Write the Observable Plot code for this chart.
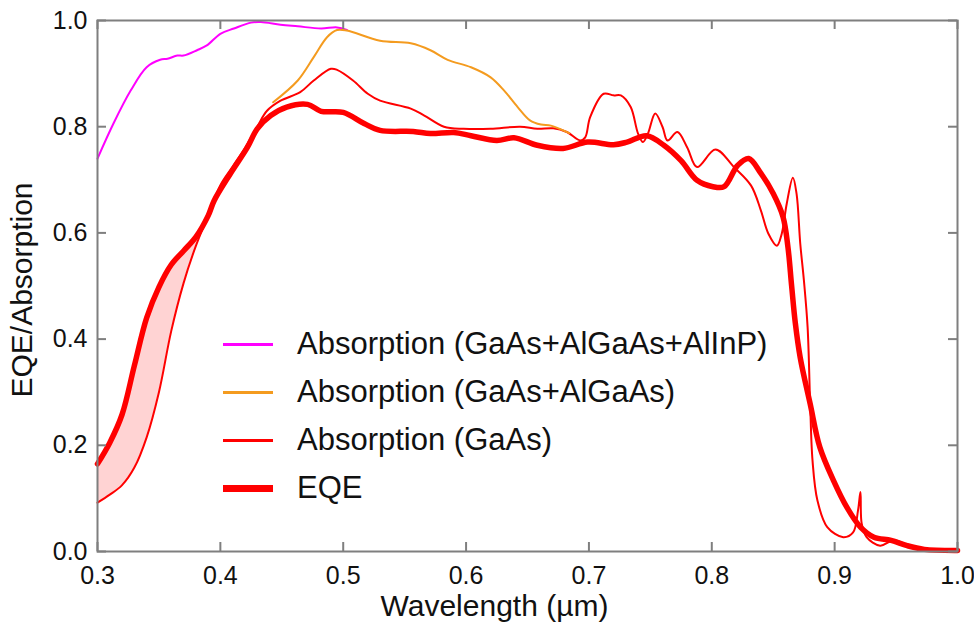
<!DOCTYPE html>
<html>
<head>
<meta charset="utf-8">
<script src="https://cdn.jsdelivr.net/npm/d3@7"></script>
<script src="https://cdn.jsdelivr.net/npm/@observablehq/plot@0.6"></script>
<style>
  html, body { margin: 0; padding: 0; background: #fff; }
  #wrap { position: relative; width: 974px; height: 627px; font-family: "Liberation Sans", Arial, sans-serif; }
  #legend { position: absolute; left: 223px; top: 320px; font-size: 31px; color: #111; }
  #legend .row { height: 48px; line-height: 48px; white-space: nowrap; }
  #legend .sw { display: inline-block; width: 50px; vertical-align: middle; margin-right: 24px; position: relative; top: -1px; }
</style>
</head>
<body>
<div id="wrap"><div id="legend"></div></div>
<script>
// ---- Data ----
const seriesNames = ["Absorption (GaAs+AlGaAs+AlInP)", "Absorption (GaAs+AlGaAs)", "Absorption (GaAs)", "EQE"];
const seriesColors = ["#ff00ff", "#f49b1f", "#ff0000", "#ff0000"];
const seriesWidths = [2, 2, 2, 5.5];

const xTicks = [0.3, 0.4, 0.5, 0.6, 0.7, 0.8, 0.9, 1.0];
const yTicks = [0.0, 0.2, 0.4, 0.6, 0.8, 1.0];

// Absorption (GaAs+AlGaAs+AlInP)
const magX = [0.300,0.313,0.327,0.340,0.351,0.357,0.365,0.370,0.381,0.389,0.400,0.411,0.425,0.433,0.449,0.463,0.482,0.495,0.503];
const magY = [0.740,0.806,0.868,0.912,0.926,0.928,0.934,0.934,0.944,0.953,0.975,0.985,0.996,0.997,0.992,0.989,0.985,0.987,0.982];

// Absorption (GaAs+AlGaAs)
const orX = [0.443,0.463,0.476,0.487,0.495,0.503,0.530,0.555,0.571,0.585,0.604,0.620,0.631,0.642,0.652,0.661,0.669,0.679,0.684];
const orY = [0.846,0.887,0.931,0.969,0.982,0.981,0.962,0.957,0.944,0.926,0.912,0.893,0.868,0.837,0.812,0.804,0.802,0.793,0.788];

// Absorption (GaAs)
const gaX = [0.30,0.31,0.32,0.33,0.34,0.35,0.36,0.37,0.38,0.39,0.400,0.410,0.420,0.430,0.438,0.449,0.465,0.476,0.490,0.495,0.508,0.520,0.530,0.555,0.566,0.582,0.598,0.620,0.644,0.658,0.671,0.682,0.693,0.697,0.701,0.712,0.720,0.726,0.734,0.740,0.744,0.748,0.754,0.760,0.764,0.772,0.780,0.788,0.803,0.818,0.832,0.840,0.846,0.853,0.857,0.861,0.866,0.869,0.872,0.875,0.878,0.880,0.882,0.886,0.894,0.907,0.915,0.919,0.921,0.922,0.926,0.937,0.948,0.964,0.986,1.000];
const gaY = [0.092,0.107,0.125,0.158,0.215,0.300,0.415,0.505,0.575,0.632,0.690,0.725,0.760,0.800,0.830,0.849,0.865,0.887,0.909,0.907,0.887,0.862,0.849,0.834,0.821,0.800,0.796,0.796,0.800,0.796,0.797,0.790,0.774,0.780,0.818,0.862,0.859,0.859,0.837,0.787,0.771,0.787,0.825,0.799,0.774,0.790,0.761,0.724,0.757,0.724,0.689,0.642,0.599,0.576,0.599,0.655,0.704,0.674,0.580,0.510,0.422,0.284,0.171,0.096,0.046,0.027,0.036,0.077,0.112,0.053,0.027,0.011,0.021,0.008,0.002,0.000];

// EQE
const eqX = [0.30,0.31,0.32,0.33,0.34,0.35,0.36,0.37,0.38,0.39,0.395,0.408,0.422,0.430,0.441,0.454,0.471,0.482,0.500,0.517,0.530,0.557,0.571,0.590,0.604,0.625,0.639,0.658,0.679,0.699,0.720,0.731,0.747,0.761,0.775,0.788,0.801,0.810,0.821,0.830,0.840,0.850,0.858,0.862,0.865,0.868,0.872,0.880,0.888,0.899,0.910,0.921,0.932,0.946,0.959,0.973,1.000];
const eqY = [0.165,0.205,0.258,0.350,0.440,0.498,0.540,0.566,0.592,0.632,0.661,0.711,0.761,0.796,0.821,0.837,0.842,0.829,0.827,0.806,0.793,0.791,0.787,0.789,0.783,0.774,0.779,0.765,0.759,0.771,0.766,0.771,0.783,0.765,0.736,0.699,0.687,0.687,0.727,0.740,0.712,0.674,0.630,0.573,0.500,0.430,0.365,0.279,0.196,0.134,0.083,0.046,0.027,0.021,0.011,0.004,0.002];

// ---- Tables built from the arrays ----
const toRows = (xs, ys) => xs.map((x, i) => ({x, y: ys[i]}));
const mag = toRows(magX, magY);
const ora = toRows(orX, orY);
const gaas = toRows(gaX, gaY);
const eqe = toRows(eqX, eqY);
// shaded region between EQE and GaAs absorption where they share wavelengths (0.30–0.39)
const fillRows = eqX.filter(x => x <= 0.39 && gaX.includes(x)).map(x => ({
  x, lo: gaY[gaX.indexOf(x)], hi: eqY[eqX.indexOf(x)]
}));

const axisColor = "#7f7f7f";
const font = "Liberation Sans, Arial, sans-serif";

const chart = Plot.plot({
  width: 974,
  height: 627,
  marginLeft: 97,
  marginRight: 17,
  marginTop: 20,
  marginBottom: 76,
  style: {fontFamily: font, background: "#fff", color: "#111", overflow: "visible"},
  x: {domain: [0.3, 1.0], label: null},
  y: {domain: [0, 1], label: null},
  marks: [
    Plot.areaY(fillRows, {x: "x", y1: "lo", y2: "hi", fill: "#ffd3d3", curve: "catmull-rom"}),
    Plot.line(mag, {x: "x", y: "y", stroke: seriesColors[0], strokeWidth: seriesWidths[0], curve: "catmull-rom"}),
    Plot.line(gaas, {x: "x", y: "y", stroke: seriesColors[2], strokeWidth: seriesWidths[2], curve: "catmull-rom"}),
    Plot.line(ora, {x: "x", y: "y", stroke: seriesColors[1], strokeWidth: seriesWidths[1], curve: "catmull-rom"}),
    Plot.line(eqe, {x: "x", y: "y", stroke: seriesColors[3], strokeWidth: seriesWidths[3], curve: "catmull-rom", strokeLinejoin: "round"}),
    // inward ticks on all four sides
    Plot.ruleX(xTicks, {insetTop: 522, stroke: axisColor, strokeWidth: 2}),
    Plot.ruleX(xTicks, {insetBottom: 522, stroke: axisColor, strokeWidth: 2}),
    Plot.ruleY(yTicks, {insetRight: 851, stroke: axisColor, strokeWidth: 2}),
    Plot.ruleY(yTicks, {insetLeft: 851, stroke: axisColor, strokeWidth: 2}),
    Plot.frame({stroke: axisColor, strokeWidth: 2}),
    Plot.axisX(xTicks, {anchor: "bottom", tickSize: 0, tickPadding: 15, tickFormat: d3.format(".1f"), fontSize: 25, label: null, fill: "#111"}),
    Plot.axisY(yTicks, {anchor: "left", tickSize: 0, tickPadding: 10, tickFormat: d3.format(".1f"), fontSize: 25, label: null, fill: "#111"}),
    Plot.text(["Wavelength (µm)"], {frameAnchor: "bottom", textAnchor: "middle", dx: -33, dy: 64, fontSize: 30, fill: "#111"}),
    Plot.text(["EQE/Absorption"], {frameAnchor: "left", textAnchor: "middle", dx: -75, dy: 4, rotate: -90, fontSize: 30, fill: "#111"})
  ]
});

const wrap = document.getElementById("wrap");
wrap.insertBefore(chart, wrap.firstChild);

// legend overlay
const legend = document.getElementById("legend");
seriesNames.forEach((name, i) => {
  const row = document.createElement("div");
  row.className = "row";
  const sw = document.createElement("span");
  sw.className = "sw";
  sw.style.height = (i === 3 ? 7 : 3) + "px";
  sw.style.background = seriesColors[i];
  const t = document.createElement("span");
  t.textContent = name;
  row.appendChild(sw);
  row.appendChild(t);
  legend.appendChild(row);
});
</script>
</body>
</html>
